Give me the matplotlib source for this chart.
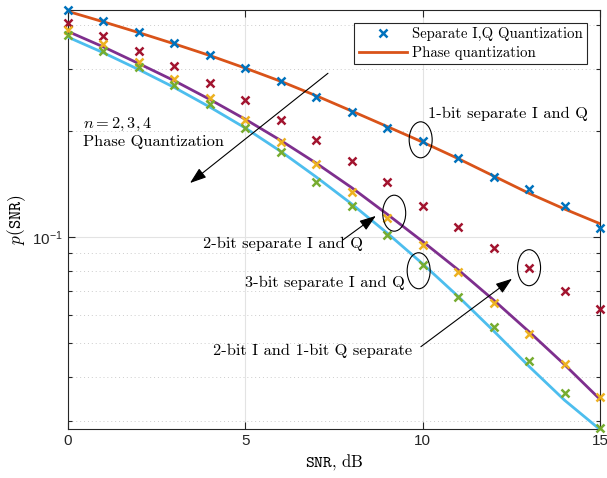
import numpy as np
import matplotlib
matplotlib.use("Agg")
import matplotlib.pyplot as plt
from matplotlib.patches import Ellipse
from matplotlib.lines import Line2D
from matplotlib.transforms import ScaledTranslation
from matplotlib.ticker import FixedLocator, NullFormatter

plt.rcParams.update({
    "font.family": "Liberation Sans",
    "mathtext.fontset": "custom",
    "mathtext.rm": "Liberation Sans",
    "mathtext.it": "Liberation Sans:italic",
    "axes.unicode_minus": True,
})

snr_db = np.arange(0, 16)

# separate I/Q quantization (markers)
iq_1bit = [0.441, 0.411, 0.382, 0.356, 0.329, 0.302, 0.277, 0.250,
           0.226, 0.204, 0.187, 0.168, 0.148, 0.137, 0.122, 0.106]
iq_2bitI_1bitQ = [0.405, 0.372, 0.338, 0.306, 0.274, 0.245, 0.215, 0.189,
                  0.164, 0.143, 0.122, 0.107, 0.093, 0.0817, 0.0703, 0.0624]
iq_2bit = [0.387, 0.353, 0.314, 0.281, 0.248, 0.215, 0.186, 0.161,
           0.134, 0.113, 0.0949, 0.0796, 0.0650, 0.0530, 0.0436, 0.0351]
iq_3bit = [0.375, 0.338, 0.304, 0.270, 0.239, 0.204, 0.174, 0.143,
           0.122, 0.1013, 0.0833, 0.0676, 0.0555, 0.0444, 0.0360, 0.0285]

# phase quantization, n = 2, 3, 4 (lines)
phase_n2 = [0.438, 0.409, 0.381, 0.354, 0.328, 0.302, 0.277, 0.252,
            0.228, 0.206, 0.186, 0.167, 0.149, 0.133, 0.120, 0.109]
phase_n3 = [0.384, 0.347, 0.311, 0.278, 0.246, 0.216, 0.188, 0.162,
            0.138, 0.116, 0.0970, 0.0806, 0.0661, 0.0537, 0.0433, 0.0345]
phase_n4 = [0.370, 0.334, 0.299, 0.266, 0.234, 0.204, 0.175, 0.148,
            0.124, 0.1025, 0.0838, 0.0677, 0.0540, 0.0428, 0.0343, 0.0283]

C_BLUE, C_ORANGE, C_YELLOW = "#0072BD", "#D95319", "#EDB120"
C_PURPLE, C_GREEN, C_CYAN, C_RED = "#7E2F8E", "#77AC30", "#4DBEEE", "#A2142F"

fig = plt.figure(figsize=(6.07, 4.78), dpi=100)
ax = fig.add_axes([68 / 607, 1 - 429 / 478, 532 / 607, 419 / 478])
ax.set_yscale("log")
ax.set_xlim(0, 15)
ax.set_ylim(0.0284, 0.442)

mk = dict(marker="x", ls="none", ms=5.5, mew=1.8, clip_on=False, zorder=4)
ax.plot(snr_db, phase_n2, color=C_ORANGE, lw=2, zorder=3)
ax.plot(snr_db, phase_n3, color=C_PURPLE, lw=2, zorder=3)
ax.plot(snr_db, phase_n4, color=C_CYAN, lw=2, zorder=3)
ax.plot(snr_db, iq_1bit, color=C_BLUE, **mk)
ax.plot(snr_db, iq_2bitI_1bitQ, color=C_RED, **mk)
ax.plot(snr_db, iq_2bit, color=C_YELLOW, **mk)
ax.plot(snr_db, iq_3bit, color=C_GREEN, **mk)

# MATLAB-like axes
ax.set_xticks([0, 5, 10, 15])
ax.set_xticklabels(["0", "5", "10", "15"])
ax.set_yticks([0.1])
ax.set_yticklabels([r"$\mathregular{10^{-1}}$"])
ax.yaxis.set_minor_locator(FixedLocator([0.03, 0.04, 0.05, 0.06, 0.07, 0.08,
                                         0.09, 0.2, 0.3, 0.4]))
ax.yaxis.set_minor_formatter(NullFormatter())
ax.tick_params(which="both", direction="in", top=True, right=True,
               labelsize=11, colors="#262626", width=0.8)
ax.tick_params(which="major", length=5)
ax.tick_params(which="minor", length=3)
ax.grid(True, which="major", color="#e3e3e3", lw=0.8)
ax.grid(True, which="minor", axis="y", color="#cccccc", lw=0.7, ls=(0, (1, 3)))
ax.set_axisbelow(True)
for s in ax.spines.values():
    s.set_color("#262626")
    s.set_linewidth(0.8)

ax.set_ylabel(r"$p(\mathtt{SNR})$", fontsize=12.5, math_fontfamily="cm",
              labelpad=3)
ax.set_xlabel(r"$\mathtt{SNR}$, dB", fontsize=12, family="cmr10",
              math_fontfamily="cm", labelpad=3)

# legend
handles = [Line2D([], [], color=C_BLUE, marker="x", ls="none", ms=5.5, mew=1.8),
           Line2D([], [], color=C_ORANGE, lw=2)]
leg = ax.legend(handles, ["Separate I,Q Quantization", "Phase quantization"],
                loc="upper right", bbox_to_anchor=(0.9756, 0.969),
                prop={"family": "cmr10", "size": 10.6}, fancybox=False,
                framealpha=1, edgecolor="#262626", borderpad=0.3,
                labelspacing=0.3, handlelength=3.3, handletextpad=0.3,
                borderaxespad=0)
leg.get_frame().set_linewidth(0.8)

txt = dict(family="cmr10", fontsize=11.8, math_fontfamily="cm", zorder=6)
ax.text(0.42, 0.209, r"$n=2,3,4$", va="center", ha="left", **txt)
ax.text(0.42, 0.186, "Phase Quantization", va="center", ha="left", **txt)
ax.text(10.15, 0.2236, "1-bit separate I and Q", va="center", ha="left", **txt)
ax.text(8.32, 0.0955, "2-bit separate I and Q", va="center", ha="right",
        **txt)
ax.text(9.5, 0.0740, "3-bit separate I and Q", va="center", ha="right", **txt)
ax.text(9.7, 0.0474, "2-bit I and 1-bit Q separate", va="center", ha="right",
        **txt)

arrow = dict(arrowstyle="-|>,head_length=1.0,head_width=0.35", color="k",
             lw=0.8, shrinkA=0, shrinkB=0)
ax.annotate("", xy=(3.44, 0.1423), xytext=(7.33, 0.292), arrowprops=arrow)
ax.annotate("", xy=(8.68, 0.1147), xytext=(7.75, 0.098), arrowprops=arrow)
ax.annotate("", xy=(12.52, 0.0760), xytext=(9.95, 0.0487), arrowprops=arrow)

# ellipses around highlighted points (size in inches, offset in inches)
def ring(x, y, dx=0.0, dy=0.0):
    tr = fig.dpi_scale_trans + ScaledTranslation(x, y, ax.transData)
    ax.add_patch(Ellipse((dx, dy), 0.23, 0.36, transform=tr, fill=False,
                         ec="k", lw=0.8, zorder=6))

ring(snr_db[10], iq_1bit[10], -0.02, 0.015)
ring(snr_db[9], iq_2bit[9], 0.07, 0.05)
ring(snr_db[10], iq_3bit[10], -0.04, -0.06)
ring(snr_db[13], iq_2bitI_1bitQ[13], 0.0, 0.0)

fig.savefig("out.png", dpi=100)
